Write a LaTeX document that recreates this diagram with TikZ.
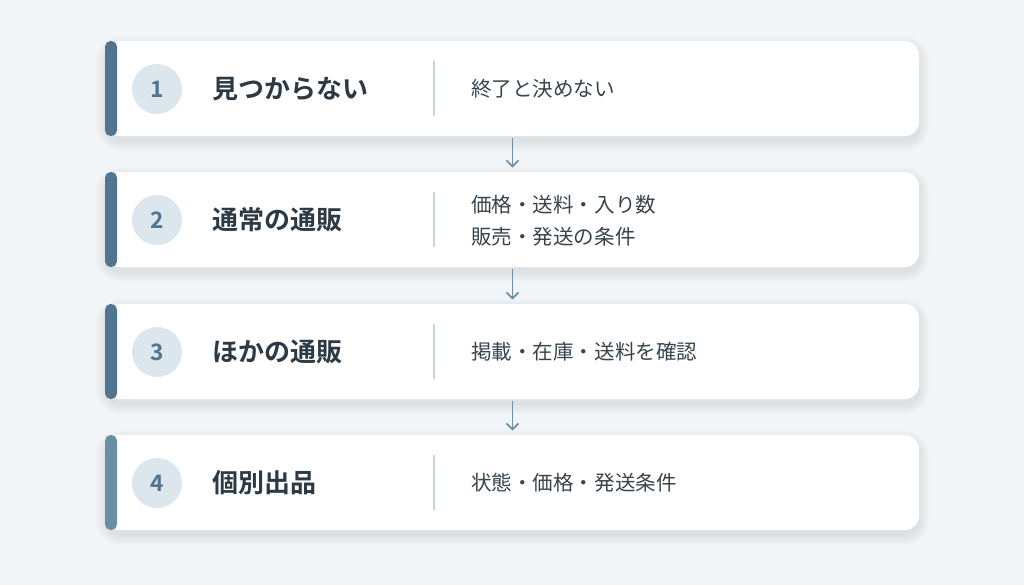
\documentclass[tikz,border=0pt]{standalone}
\usepackage{fontspec}
\setmainfont{Noto Sans CJK JP}[BoldFont={Noto Sans CJK JP Bold}]
\usetikzlibrary{arrows.meta}
\definecolor{bg}{HTML}{F2F5F8}
\definecolor{barA}{HTML}{4F7591}
\definecolor{barB}{HTML}{6A8FA5}
\definecolor{circ}{HTML}{DCE6ED}
\definecolor{numcol}{HTML}{4F7591}
\definecolor{titlecol}{HTML}{2D3A44}
\definecolor{desccol}{HTML}{38444D}
\definecolor{divcol}{HTML}{C6D4DE}
\definecolor{arrcol}{HTML}{6F90A6}
\tikzset{
  card/.style={fill=white, rounded corners=10.5pt, minimum width=609.75pt, minimum height=71.25pt, inner sep=0pt},
  numc/.style={circle, fill=circ, text=numcol, minimum size=37.5pt, inner sep=0pt, font=\fontsize{17}{18}\selectfont\bfseries},
  titletext/.style={anchor=west, text=titlecol, inner sep=0pt, font=\fontsize{19.5}{22}\selectfont\bfseries},
  desctext/.style={anchor=west, text=desccol, inner sep=0pt, align=left, font=\fontsize{15.4}{24}\selectfont},
  divline/.style={draw=divcol, line width=1.1pt},
  flowarrow/.style={draw=arrcol, line width=1.35pt, -{Straight Barb[length=4.5pt,width=9pt]}}
}
\begin{document}
\begin{tikzpicture}[x=0.75pt,y=-0.75pt]
\fill[bg] (0,0) rectangle (1024,585);
\useasboundingbox (0,0) rectangle (1024,585);
% shadows
\foreach \t in {41,172,304,435}{
  \foreach \k in {1,...,10}{
    \pgfmathsetmacro{\rc}{(14+\k)*0.75}
    \fill[black, opacity=0.009, rounded corners=\rc pt] (106-\k,\t+5-\k) rectangle (919+\k,\t+95+5+\k);
  }
}
% cards
\node[card] (c1) at (512.5,88.5) {};
\node[card] (c2) at (512.5,219.5) {};
\node[card] (c3) at (512.5,351.5) {};
\node[card] (c4) at (512.5,482.5) {};
% bars
\fill[barA, rounded corners=4.2pt] (105,41) rectangle (117,136);
\fill[barA, rounded corners=4.2pt] (105,172) rectangle (117,267);
\fill[barA, rounded corners=4.2pt] (105,304) rectangle (117,399);
\fill[barB, rounded corners=4.2pt] (105,435) rectangle (117,530);
% numbers
\node[numc] (n1) at (157,89) {1};
\node[numc] (n2) at (157,220) {2};
\node[numc] (n3) at (157,352) {3};
\node[numc] (n4) at (157,483) {4};
% titles
\node[titletext] (t1) at (212,89) {見つからない};
\node[titletext] (t2) at (212,220) {通常の通販};
\node[titletext] (t3) at (212,352) {ほかの通販};
\node[titletext] (t4) at (212,483) {個別出品};
% dividers
\draw[divline] (434,61) -- (434,116);
\draw[divline] (434,192) -- (434,247);
\draw[divline] (434,324) -- (434,379);
\draw[divline] (434,455) -- (434,510);
% descriptions
\node[desctext] (d1) at (471,89) {終了と決めない};
\node[desctext] (d2) at (471,221) {価格・送料・入り数\\販売・発送の条件};
\node[desctext] (d3) at (471,352) {掲載・在庫・送料を確認};
\node[desctext] (d4) at (471,483) {状態・価格・発送条件};
% arrows
\draw[flowarrow] ([yshift=-1.5pt]c1.south) -- ([yshift=3pt]c2.north);
\draw[flowarrow] ([yshift=-1.5pt]c2.south) -- ([yshift=3pt]c3.north);
\draw[flowarrow] ([yshift=-1.5pt]c3.south) -- ([yshift=3pt]c4.north);
\end{tikzpicture}
\end{document}
